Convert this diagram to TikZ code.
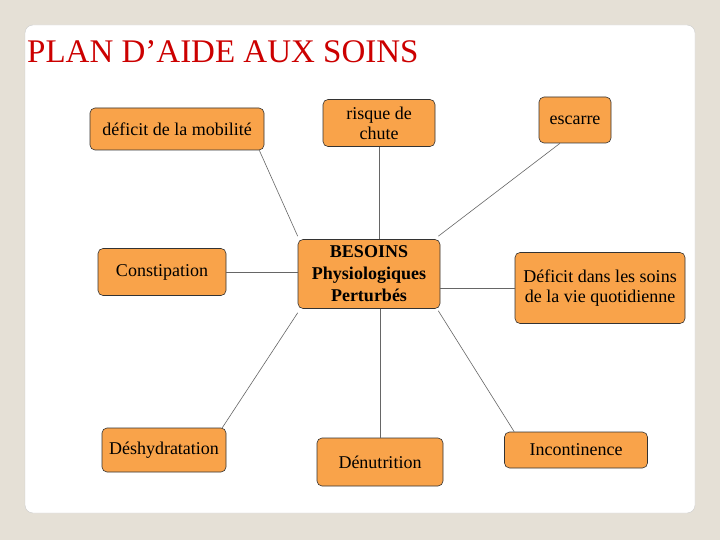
\documentclass[tikz,border=0pt]{standalone}
\usepackage{fontspec}
\setmainfont{Liberation Serif}
\definecolor{boxor}{RGB}{249,163,74}
\definecolor{bgc}{RGB}{229,224,214}
\begin{document}
\begin{tikzpicture}[x=1pt,y=-1pt,
  box/.style={draw=black!80,fill=boxor,rounded corners=5pt,line width=0.6pt,align=center,font=\fontsize{18}{20}\selectfont,inner sep=0pt},
  link/.style={draw=black!60,line width=0.6pt}]
\fill[bgc] (0,0) rectangle (720,540);
\useasboundingbox (0,0) rectangle (720,540);
\fill[white,draw=gray!40,rounded corners=8pt] (25,25) rectangle (695,513);
\node[anchor=west,text=red!80!black,font=\fontsize{33}{35}\selectfont,inner sep=0pt] (title) at (27,52) {PLAN D’AIDE AUX SOINS};
\node[box,minimum width=174,minimum height=42] (a) at (177,129) {déficit de la mobilité};
\node[box,minimum width=112,minimum height=47] (b) at (379,123) {risque de\\chute};
\node[box,minimum width=72,minimum height=46] (c) at (575,120) {escarre};
\node[box,minimum width=128,minimum height=47] (d) at (162,272) {Constipation};
\node[box,minimum width=142,minimum height=69,font=\bfseries\fontsize{18}{22}\selectfont] (e) at (369,274) {BESOINS\\Physiologiques\\Perturbés};
\node[box,minimum width=170,minimum height=71] (f) at (600,288) {Déficit dans les soins\\de la vie quotidienne};
\node[box,minimum width=124,minimum height=44] (g) at (164,450) {Déshydratation};
\node[box,minimum width=126,minimum height=48] (h) at (380,462) {Dénutrition};
\node[box,minimum width=143,minimum height=36] (i) at (576,450) {Incontinence};
\draw[link] ([xshift=-5pt]a.south east) -- ([yshift=3pt]e.north west);
\draw[link] (b.south) -- (b.south |- e.north);
\draw[link] ([xshift=-15pt]c.south) -- ([xshift=-2pt,yshift=3pt]e.north east);
\draw[link] (d.east) -- (d.east -| e.west);
\draw[link] (e.east |- f.west) -- (f.west);
\draw[link] ([xshift=-4pt]g.north east) -- ([yshift=-4pt]e.south west);
\draw[link] (h.north |- e.south) -- (h.north);
\draw[link] ([xshift=-2pt,yshift=-2pt]e.south east) -- ([xshift=10pt]i.north west);
\end{tikzpicture}
\end{document}
